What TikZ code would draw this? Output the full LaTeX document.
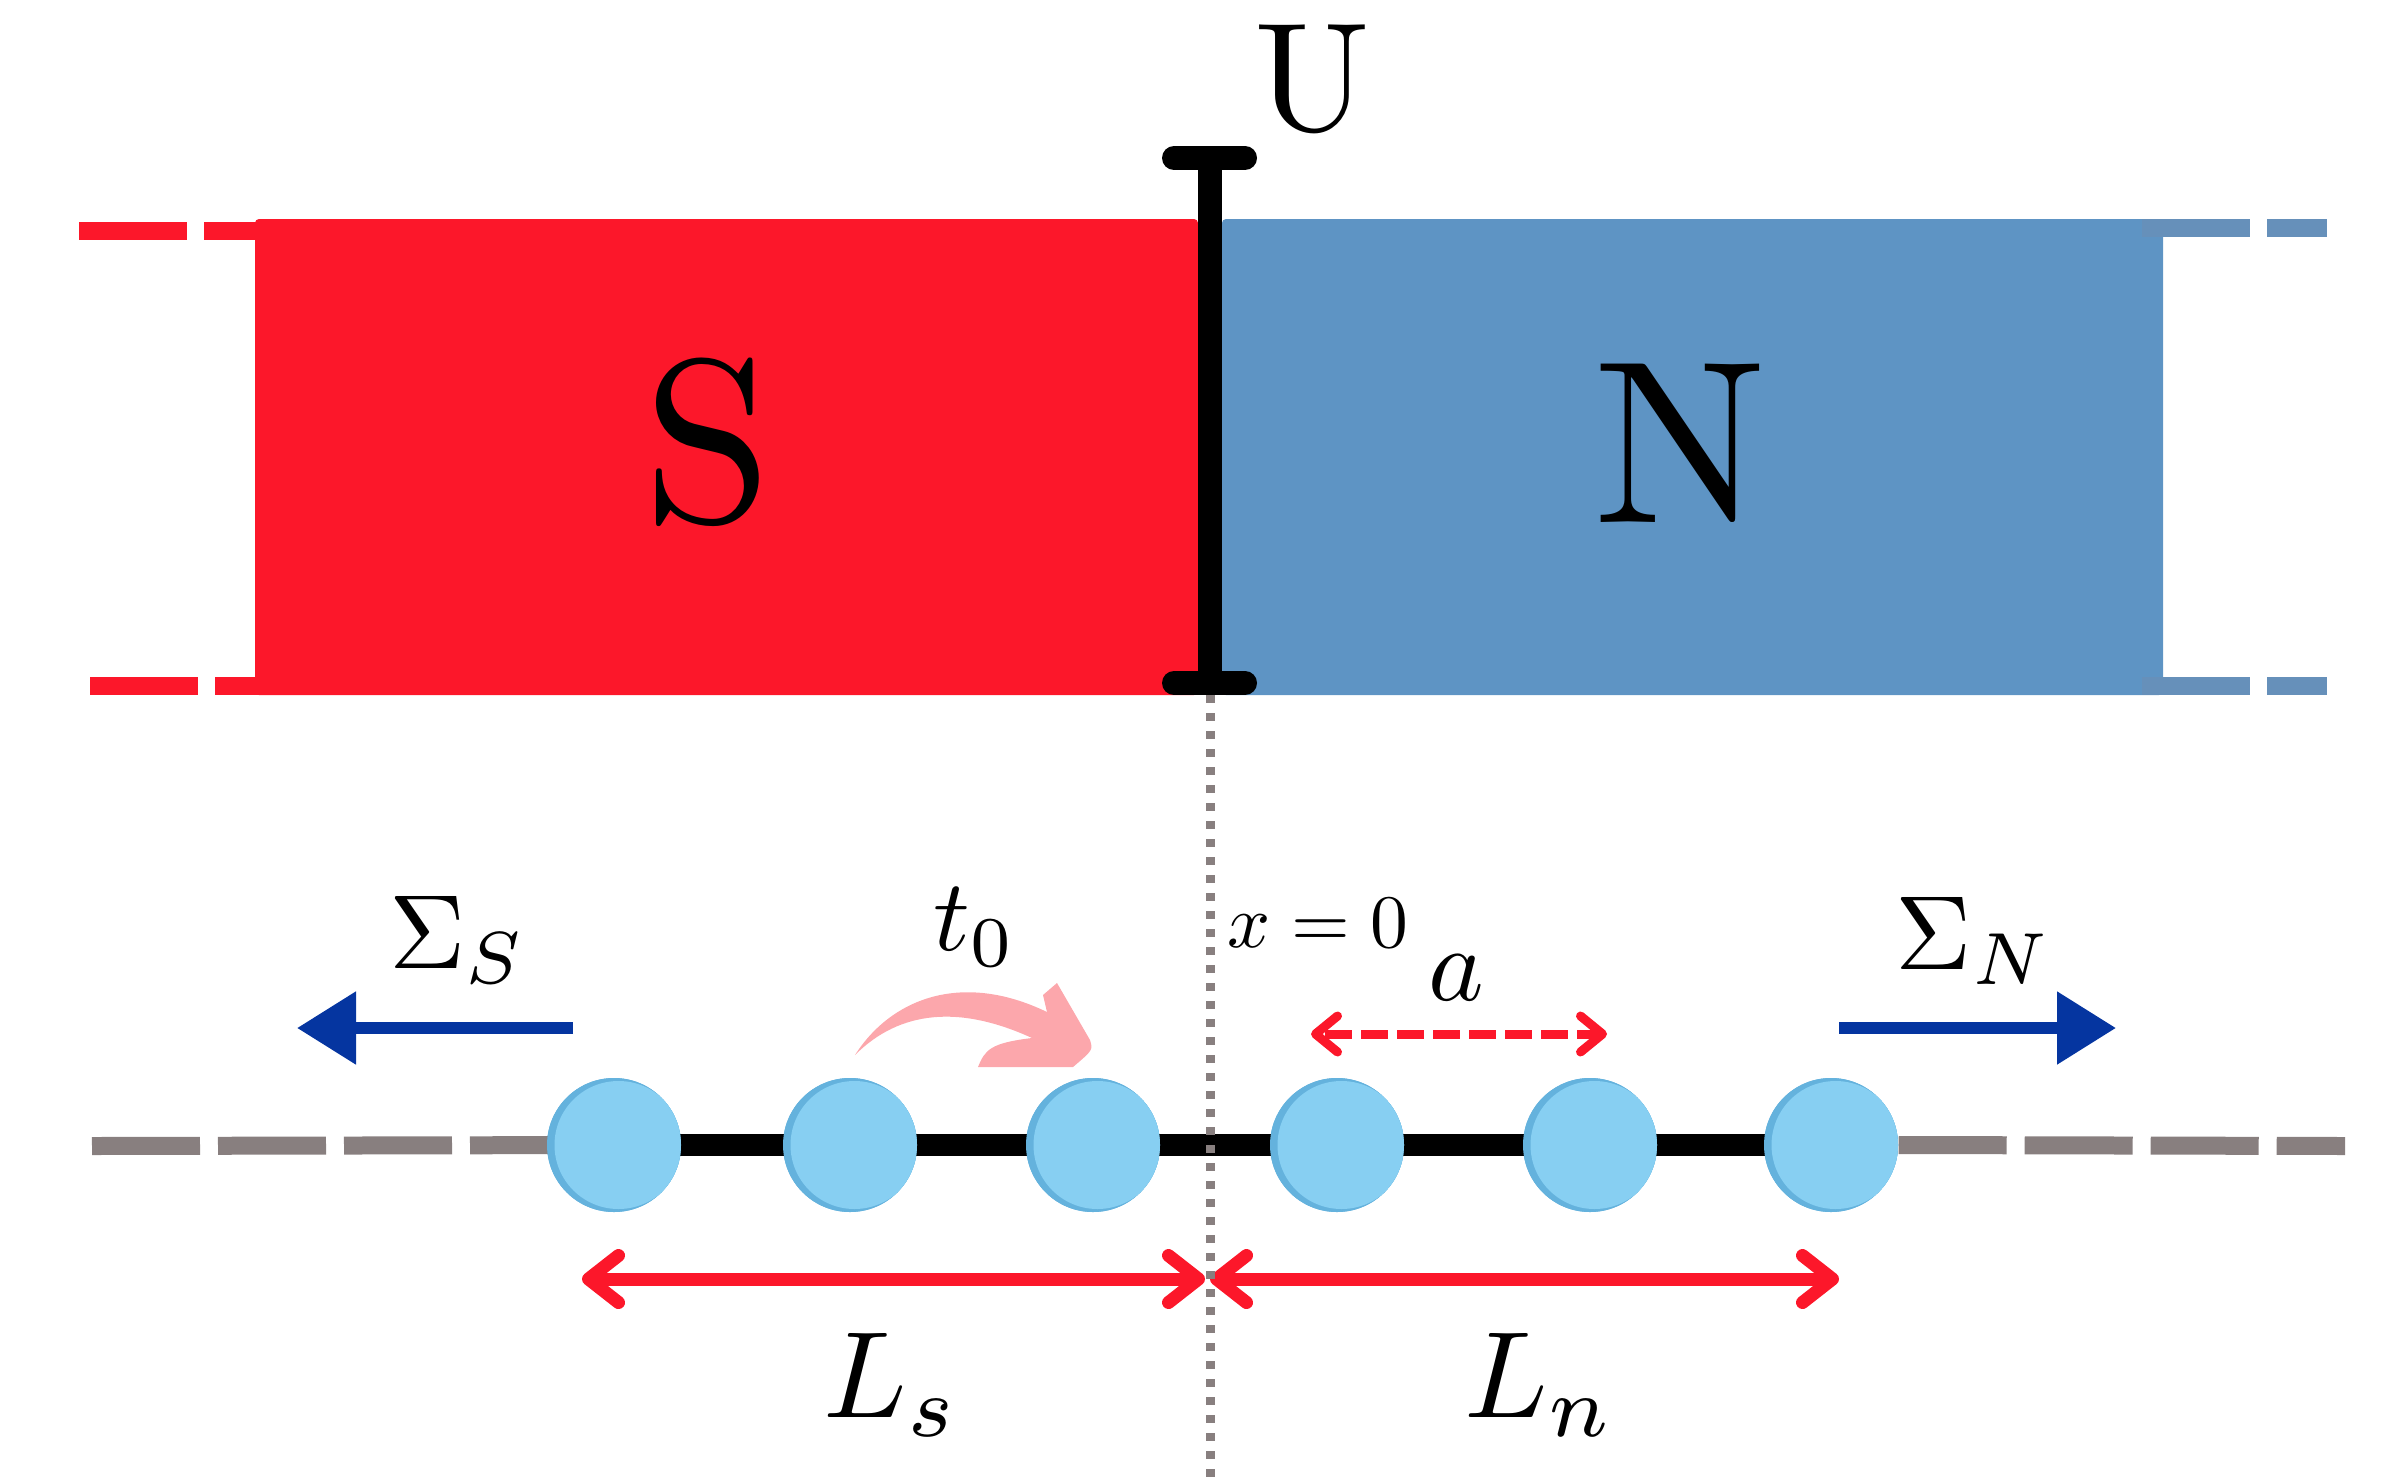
\RequirePackage{fix-cm}
\documentclass[tikz,border=0pt]{standalone}
\usepackage{amsmath}
\usepackage{amssymb}
\usepackage{graphicx}
\usepackage{tikz}
\usetikzlibrary{arrows.meta}
\definecolor{scred}{RGB}{252,23,42}
\definecolor{nblue}{RGB}{94,148,196}
\definecolor{nbluedash}{RGB}{102,144,186}
\definecolor{sigblue}{RGB}{5,53,160}
\definecolor{chaingray}{RGB}{136,127,127}
\definecolor{hoppink}{RGB}{252,167,172}
\definecolor{sitefill}{RGB}{135,207,242}
\definecolor{siteedge}{RGB}{100,178,221}

\begin{document}
\begin{tikzpicture}[
  site/.style={circle, fill=siteedge, minimum size=1.34cm, inner sep=0pt,
    path picture={\fill[sitefill] ([xshift=0.045cm]path picture bounding box.center) circle (0.64cm);}},
  lead/.style={line width=0.18cm, chaingray, dash pattern=on 1.08cm off 0.18cm},
  edgedash/.style={line width=0.18cm, dash pattern=on 1.08cm off 0.17cm},
  flow/.style={line width=0.12cm, sigblue, -{Triangle[length=0.59cm,width=0.70cm]}},
  span/.style={line width=0.13cm, scred,
    {Straight Barb[length=0.30cm,width=0.47cm,round]}-{Straight Barb[length=0.30cm,width=0.47cm,round]}},
  probe/.style={line width=0.09cm, chaingray, dash pattern=on 0.08cm off 0.10cm}]
  \useasboundingbox (0,0) rectangle (24.02,-14.78);

  \fill[scred, rounded corners=0.04cm] (2.55,-2.19) rectangle (11.98,-6.95);
  \fill[nblue, rounded corners=0.04cm] (12.22,-2.19) rectangle (21.63,-6.95);
  \draw[edgedash, scred] (0.79,-2.31) -- (2.70,-2.31);
  \draw[edgedash, scred] (0.90,-6.86) -- (2.70,-6.86);
  \draw[edgedash, nbluedash] (21.42,-2.28) -- (23.27,-2.28);
  \draw[edgedash, nbluedash] (21.42,-6.86) -- (23.27,-6.86);

  \node (S) at (7.08,-4.42) {\scalebox{6.6}{S}};
  \node (N) at (16.80,-4.43) {\scalebox{6.6}{N}};

  \coordinate (jtop) at (12.10,-1.58);
  \coordinate (jbot) at (12.10,-6.83);
  \draw[line width=0.24cm] (jtop) -- (jbot);
  \draw[line width=0.24cm, line cap=round] ([xshift=-0.36cm]jtop) -- ([xshift=0.35cm]jtop);
  \draw[line width=0.24cm, line cap=round] ([xshift=-0.36cm]jbot) -- ([xshift=0.35cm]jbot);
  \node (U) at (13.12,-0.79) {\scalebox{4.4}{U}};

  \coordinate (leadL) at (0.92,-11.46);
  \coordinate (leadR) at (23.45,-11.46);
  \node[site] (c1) at (6.14,-11.45) {};
  \node[site] (c2) at (8.50,-11.45) {};
  \node[site] (c3) at (10.93,-11.45) {};
  \node[site] (c4) at (13.37,-11.45) {};
  \node[site] (c5) at (15.90,-11.45) {};
  \node[site] (c6) at (18.31,-11.45) {};
  \draw[lead] (leadL) -- (c1.center);
  \draw[lead] (c6.east) -- (leadR);
  \draw[line width=0.22cm] (c1.center) -- (c6.center);
  \foreach \k in {1,...,6} \node[site] at (c\k) {};

  \fill[hoppink] (8.55,-10.55) .. controls (8.90,-10.00) and (9.60,-9.70) .. (10.47,-10.12)
    -- (10.43,-9.95) -- (10.57,-9.83) -- (10.90,-10.40) .. controls (10.93,-10.50) .. (10.73,-10.67)
    -- (9.78,-10.67) .. controls (9.85,-10.50) and (9.90,-10.43) .. (10.32,-10.38)
    .. controls (9.60,-10.05) and (9.00,-10.10) .. (8.55,-10.55) -- cycle;
  \node (t0) at (9.75,-9.27) {\scalebox{2.9}{$t_0$}};

  \coordinate (sigS0) at (5.73,-10.28);
  \coordinate (sigS1) at (2.97,-10.28);
  \coordinate (sigN0) at (18.39,-10.28);
  \coordinate (sigN1) at (21.16,-10.28);
  \draw[flow] (sigS0) -- (sigS1);
  \draw[flow] (sigN0) -- (sigN1);
  \node (SigS) at (4.58,-9.40) {\scalebox{3.0}{$\Sigma_S$}};
  \node (SigN) at (19.74,-9.41) {\scalebox{3.0}{$\Sigma_N$}};

  \node (x0) at (13.18,-9.23) {\scalebox{2.15}{$x=0$}};
  \coordinate (a0) at (13.11,-10.34);
  \coordinate (a1) at (16.07,-10.34);
  \draw[line width=0.09cm, scred, dash pattern=on 0.27cm off 0.09cm, dash phase=0.31cm,
    {Straight Barb[length=0.22cm,width=0.36cm,round]}-{Straight Barb[length=0.22cm,width=0.36cm,round]}] (a0) -- (a1);
  \node (a) at (14.56,-9.78) {\scalebox{3.0}{$a$}};

  \coordinate (Ls0) at (5.82,-12.79);
  \coordinate (mid) at (12.07,-12.79);
  \coordinate (Ln1) at (18.39,-12.79);
  \draw[span] (Ls0) -- ([xshift=-0.02cm]mid);
  \draw[span] ([xshift=0.03cm]mid) -- (Ln1);
  \node (Ls) at (8.92,-13.85) {\scalebox{3.5}{$L_s$}};
  \node (Ln) at (15.40,-13.85) {\scalebox{3.5}{$L_n$}};

  \coordinate (jend) at (12.10,-14.78);
  \draw[probe] (12.10,-6.95) -- (jend);
\end{tikzpicture}
\end{document}
